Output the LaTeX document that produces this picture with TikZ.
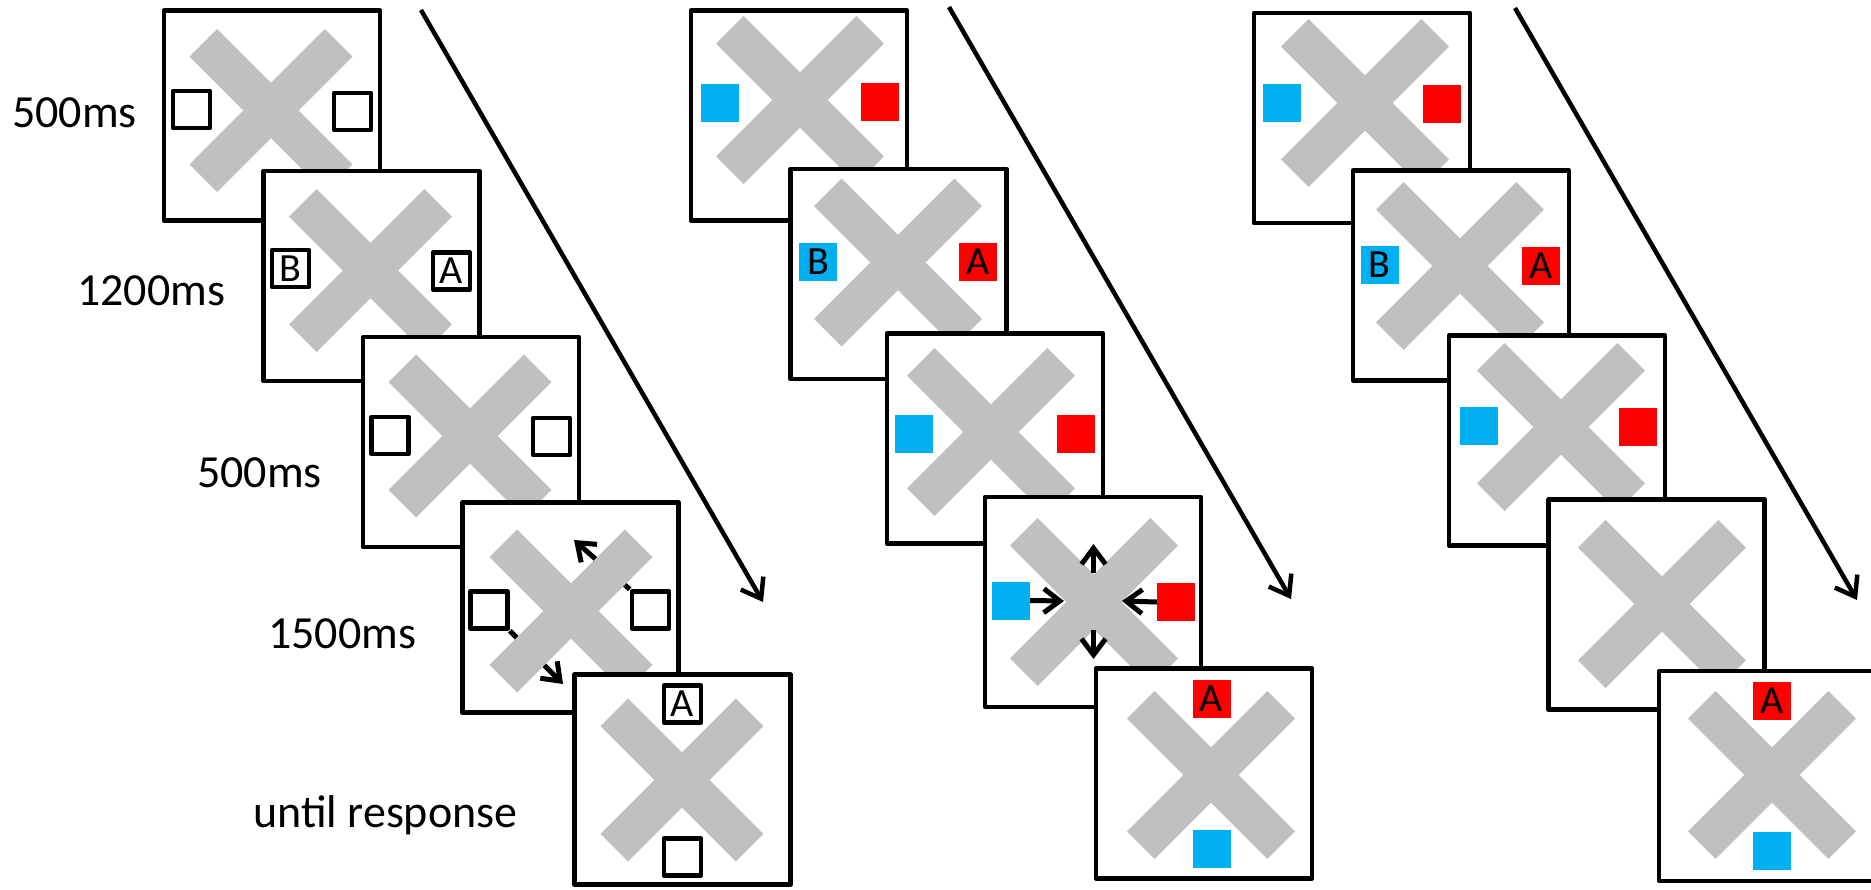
\documentclass[tikz,border=0pt]{standalone}
\usepackage{fontspec}
\setmainfont{Carlito}
\usetikzlibrary{arrows.meta}

\definecolor{xgray}{HTML}{C0C0C0}
\definecolor{cueblue}{HTML}{00B0F0}
\definecolor{cuered}{HTML}{FF0000}

\tikzset{
  screen/.style={draw=black, line width=4.5pt, fill=white, line join=round,
    minimum width=216pt, minimum height=210pt, inner sep=0pt},
  xbar/.style={draw=xgray, line width=39pt, line cap=butt},
  pics/cross/.style={code={
    \draw[xbar] (-#1,-#1) -- (#1,#1);
    \draw[xbar] (-#1,#1) -- (#1,-#1);}},
  letter/.style={font=\fontsize{40}{40}\selectfont, text=black},
  hollow/.style={letter, draw=black, line width=4.5pt, fill=white, line join=round,
    minimum size=37pt, inner sep=0pt},
  bluecue/.style={letter, fill=cueblue, minimum size=38pt, inner sep=0pt},
  redcue/.style={letter, fill=cuered, minimum size=38pt, inner sep=0pt},
  timelabel/.style={anchor=base west, inner sep=0pt, font=\fontsize{46}{50}\selectfont},
  timeline/.style={line width=4.5pt, -{Straight Barb[length=18pt,width=26pt]}},
  motion/.style={line width=5pt, -{Straight Barb[length=16pt,width=24pt]}},
}

\begin{document}
\begin{tikzpicture}[x=1pt, y=-1pt]
\useasboundingbox (0,0) rectangle (1871,889);

% ---------- time labels ----------
\node[timelabel] (t1) at (12,127) {500ms};
\node[timelabel] (t2) at (77,305) {1200ms};
\node[timelabel] (t3) at (197,487) {500ms};
\node[timelabel] (t4) at (268,648) {1500ms};
\node[timelabel] (t5) at (253,827) {until response};

% ---------- sequence 1: outlined placeholders ----------
\node[screen] (a1) at (272,115.5) {};
\pic at (271,110.5) {cross=67.7};
\node[hollow] (a1l) at (191.5,109.5) {};
\node[hollow] (a1r) at (352.5,111.5) {};

\node[screen] (a2) at (371.5,276) {};
\pic at (370.5,270.5) {cross=67.7};
\node[hollow] (a2l) at (290.5,268.5) {B};
\node[hollow] (a2r) at (451.5,271) {A};

\node[screen] (a3) at (471,442) {};
\pic at (470,436) {cross=67.7};
\node[hollow] (a3l) at (390,435.5) {};
\node[hollow] (a3r) at (551.5,436.5) {};

\node[screen] (a4) at (570.5,607.5) {};
\node[hollow] (a4l) at (489,610) {};
\node[hollow] (a4r) at (650.5,610) {};
\coordinate (a4up) at (574,540);
\coordinate (a4dn) at (563,684);
\draw[motion] (a4r.north west) -- (a4up);
\draw[motion] (a4l.south east) -- (a4dn);
\pic at (571,611) {cross=67.7};

\node[screen] (a5) at (682.5,779.5) {};
\pic at (682,780) {cross=67.7};
\node[hollow] (a5t) at (682.5,704) {A};
\node[hollow] (a5b) at (682.5,857) {};

\coordinate (a-start) at (421,10);
\coordinate (a-end) at (763,602);
\draw[timeline] (a-start) -- (a-end);

% ---------- sequence 2: coloured cues with motion ----------
\node[screen] (b1) at (799,115.5) {};
\pic at (800,100) {cross=70.2};
\node[bluecue] (b1l) at (719.5,102.5) {};
\node[redcue] (b1r) at (879.5,102) {};

\node[screen] (b2) at (898.5,274) {};
\pic at (898,262.5) {cross=70.2};
\node[bluecue] (b2l) at (818,262) {B};
\node[redcue] (b2r) at (978,262) {A};

\node[screen] (b3) at (995,438.5) {};
\pic at (991,432) {cross=70.2};
\node[bluecue] (b3l) at (914,433.5) {};
\node[redcue] (b3r) at (1075.5,433.5) {};

\node[screen] (b4) at (1093,602) {};
\pic at (1094,602) {cross=70.2};
\node[bluecue] (b4l) at (1011,600.5) {};
\node[redcue] (b4r) at (1176,602) {};
\coordinate (b4lt) at (1064,601);
\coordinate (b4rt) at (1122,601);
\coordinate (b4us) at (1093.5,573);
\coordinate (b4ut) at (1093.5,544);
\coordinate (b4ds) at (1093.5,630);
\coordinate (b4dt) at (1093.5,659);
\draw[motion] (b4l.east) -- (b4lt);
\draw[motion] (b4r.west) -- (b4rt);
\draw[motion] (b4us) -- (b4ut);
\draw[motion] (b4ds) -- (b4dt);

\node[screen] (b5) at (1204,773.5) {};
\pic at (1211,775) {cross=70.2};
\node[redcue] (b5t) at (1211.5,699) {A};
\node[bluecue] (b5b) at (1211.5,849) {};

\coordinate (b-start) at (949,7);
\coordinate (b-end) at (1291,599);
\draw[timeline] (b-start) -- (b-end);

% ---------- sequence 3: coloured cues, blank interval ----------
\node[screen] (c1) at (1362,118) {};
\pic at (1365,103) {cross=70.2};
\node[bluecue] (c1l) at (1282,102.5) {};
\node[redcue] (c1r) at (1442,104) {};

\node[screen] (c2) at (1461,275.5) {};
\pic at (1460,266) {cross=70.2};
\node[bluecue] (c2l) at (1379.5,265) {B};
\node[redcue] (c2r) at (1541,265.5) {A};

\node[screen] (c3) at (1557,440.5) {};
\pic at (1561,427) {cross=70.2};
\node[bluecue] (c3l) at (1479,426) {};
\node[redcue] (c3r) at (1638,427) {};

\node[screen] (c4) at (1656.5,604.5) {};
\pic at (1662,604) {cross=70.2};

\node[screen] (c5) at (1767,776) {};
\pic at (1772,775) {cross=70.2};
\node[redcue] (c5t) at (1772,701) {A};
\node[bluecue] (c5b) at (1772,850.5) {};

\coordinate (c-start) at (1515,8);
\coordinate (c-end) at (1857,600);
\draw[timeline] (c-start) -- (c-end);
\end{tikzpicture}
\end{document}
